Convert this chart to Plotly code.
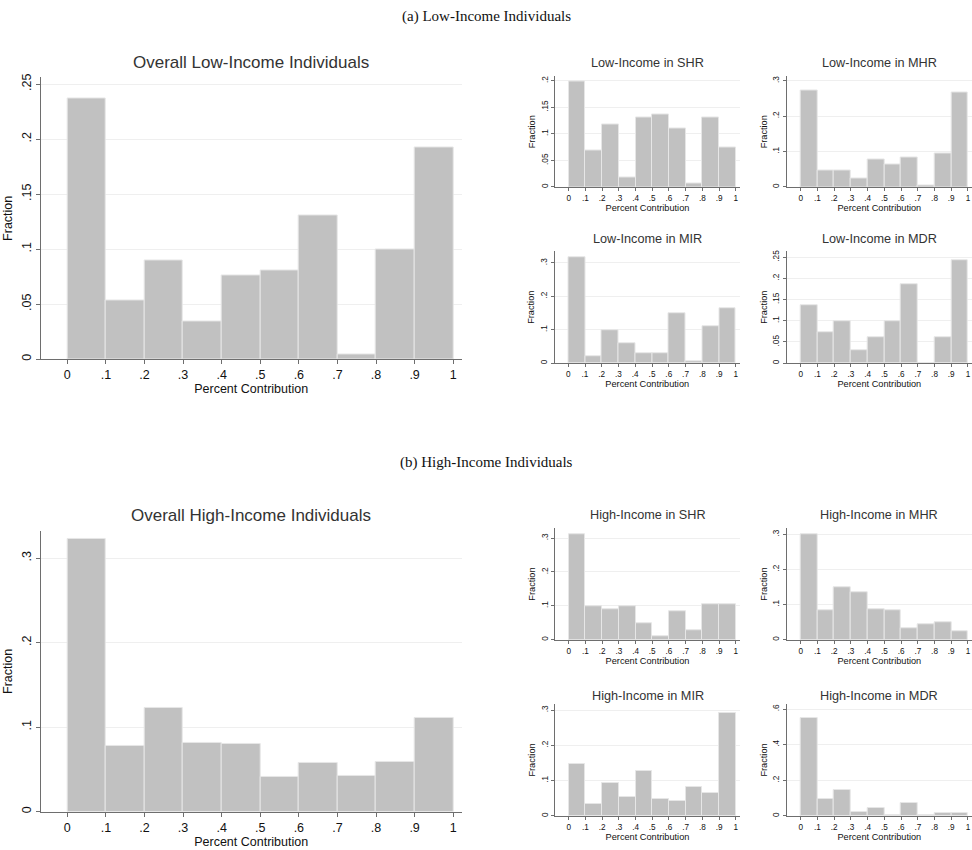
import plotly.graph_objects as go

# ---------------- data ----------------
bin_edges = [0.0, 0.1, 0.2, 0.3, 0.4, 0.5, 0.6, 0.7, 0.8, 0.9, 1.0]
x_tick_vals = [0.0, 0.1, 0.2, 0.3, 0.4, 0.5, 0.6, 0.7, 0.8, 0.9, 1.0]
x_tick_text = ["0", ".1", ".2", ".3", ".4", ".5", ".6", ".7", ".8", ".9", "1"]

low_overall = [0.237, 0.053, 0.090, 0.034, 0.076, 0.081, 0.131, 0.004, 0.100, 0.192]
low_shr = [0.199, 0.068, 0.117, 0.018, 0.130, 0.136, 0.111, 0.006, 0.130, 0.074]
low_mhr = [0.272, 0.048, 0.048, 0.024, 0.078, 0.063, 0.083, 0.003, 0.094, 0.268]
low_mir = [0.316, 0.021, 0.098, 0.060, 0.031, 0.031, 0.148, 0.005, 0.109, 0.165]
low_mdr = [0.137, 0.073, 0.098, 0.030, 0.061, 0.098, 0.187, 0.0, 0.061, 0.243]

high_overall = [0.322, 0.078, 0.123, 0.081, 0.080, 0.041, 0.058, 0.042, 0.059, 0.111]
high_shr = [0.312, 0.098, 0.091, 0.098, 0.050, 0.011, 0.085, 0.029, 0.104, 0.104]
high_mhr = [0.300, 0.084, 0.149, 0.135, 0.088, 0.084, 0.033, 0.043, 0.049, 0.025]
high_mir = [0.148, 0.033, 0.094, 0.054, 0.127, 0.049, 0.043, 0.081, 0.066, 0.291]
high_mdr = [0.550, 0.097, 0.148, 0.022, 0.044, 0.005, 0.071, 0.004, 0.014, 0.016]

titles = {
    "low_overall": "Overall Low-Income Individuals",
    "low_shr": "Low-Income in SHR",
    "low_mhr": "Low-Income in MHR",
    "low_mir": "Low-Income in MIR",
    "low_mdr": "Low-Income in MDR",
    "high_overall": "Overall High-Income Individuals",
    "high_shr": "High-Income in SHR",
    "high_mhr": "High-Income in MHR",
    "high_mir": "High-Income in MIR",
    "high_mdr": "High-Income in MDR",
}
caption_a = "(a) Low-Income Individuals"
caption_b = "(b) High-Income Individuals"
x_title = "Percent Contribution"
y_title = "Fraction"

# ---------------- layout helpers ----------------
W, H = 972, 850
FONT = "Liberation Sans, Arial, sans-serif"
SERIF = "Liberation Serif, Times New Roman, serif"
BAR_FILL = "#c1c1c1"
BAR_LINE = "#e6e6e6"
AXIS_COL = "#6e6e6e"
GRID_COL = "#efefef"

centers = [(bin_edges[i] + bin_edges[i + 1]) / 2 for i in range(len(bin_edges) - 1)]
widths = [bin_edges[i + 1] - bin_edges[i] for i in range(len(bin_edges) - 1)]


def fmt(v):
    if abs(v) < 1e-12:
        return "0"
    s = ("%.2f" % v).rstrip("0").rstrip(".")
    if s.startswith("0."):
        s = s[1:]
    return s


fig = go.Figure()
annotations = []

RX = (-0.0837, 1.024)
# key, values, x_left_px, x_right_px, y_top_px, y_bottom_px, x_range, y_top_val, y_ticks, big, title_y
panels = [
    ("low_overall", low_overall, 40.7, 461.7, 74, 357.7, (-0.069, 1.022), 0.256,
     [0, 0.05, 0.1, 0.15, 0.2, 0.25], True, 59),
    ("low_shr", low_shr, 555, 740, 73, 184.3, (-0.082, 1.025), 0.208,
     [0, 0.05, 0.1, 0.15, 0.2], False, 59),
    ("low_mhr", low_mhr, 786.7, 972, 73, 184.3, RX, 0.312,
     [0, 0.1, 0.2, 0.3], False, 59),
    ("low_mir", low_mir, 554.5, 740, 249, 361.7, (-0.082, 1.025), 0.335,
     [0, 0.1, 0.2, 0.3], False, 237),
    ("low_mdr", low_mdr, 786.7, 972, 249, 361.7, RX, 0.264,
     [0, 0.05, 0.1, 0.15, 0.2, 0.25], False, 237),
    ("high_overall", high_overall, 40.7, 461.7, 530.7, 813.5, (-0.069, 1.022), 0.332,
     [0, 0.1, 0.2, 0.3], True, 515),
    ("high_shr", high_shr, 555, 740, 528, 640.3, (-0.082, 1.025), 0.329,
     [0, 0.1, 0.2, 0.3], False, 515),
    ("high_mhr", high_mhr, 786.7, 972, 528, 640.3, RX, 0.317,
     [0, 0.1, 0.2, 0.3], False, 515),
    ("high_mir", high_mir, 555, 740, 705, 817.7, (-0.082, 1.025), 0.317,
     [0, 0.1, 0.2, 0.3], False, 697),
    ("high_mdr", high_mdr, 786.7, 972, 705, 817.7, RX, 0.628,
     [0, 0.2, 0.4, 0.6], False, 697),
]

layout_axes = {}
for i, (key, vals, xl, xr, yt, yb, xrng, ytop, yticks, big, title_y) in enumerate(panels):
    n = i + 1
    xa = "x" if n == 1 else "x%d" % n
    ya = "y" if n == 1 else "y%d" % n
    fig.add_trace(go.Bar(
        x=centers, y=vals, width=widths, xaxis=xa, yaxis=ya,
        marker=dict(color=BAR_FILL, line=dict(color=BAR_LINE, width=1)),
        showlegend=False, hoverinfo="x+y",
    ))
    tick_fs = 12.5 if big else 8.2
    xtitle_fs = 12.5 if big else 9.2
    ytitle_fs = 12.5 if big else 9.2
    layout_axes["xaxis" if n == 1 else "xaxis%d" % n] = dict(
        domain=[xl / W, min(xr / W, 1.0)], anchor=ya, range=list(xrng),
        tickvals=x_tick_vals, ticktext=x_tick_text, ticks="outside",
        ticklen=4 if big else 3, tickcolor=AXIS_COL, showline=True,
        linecolor=AXIS_COL, linewidth=1, showgrid=False, zeroline=False,
        tickfont=dict(family=FONT, size=tick_fs, color="#111"),
        title=dict(text=x_title, font=dict(family=FONT, size=xtitle_fs, color="#111"),
                   standoff=1),
        fixedrange=True,
    )
    layout_axes["yaxis" if n == 1 else "yaxis%d" % n] = dict(
        domain=[1 - yb / H, 1 - yt / H], anchor=xa, range=[0, ytop],
        tickvals=yticks, ticktext=[fmt(v) for v in yticks], tickangle=-90,
        ticks="outside", ticklen=4 if big else 3, tickcolor=AXIS_COL,
        showline=True, linecolor=AXIS_COL, linewidth=1,
        showgrid=True, gridcolor=GRID_COL, gridwidth=1, zeroline=False,
        tickfont=dict(family=FONT, size=tick_fs, color="#111"),
        title=dict(text=y_title, font=dict(family=FONT, size=ytitle_fs, color="#111"),
                   standoff=4 if big else 3),
        fixedrange=True,
    )
    annotations.append(dict(
        text=titles[key], x=(xl + min(xr, W)) / 2 / W, y=1 - title_y / H,
        xref="paper", yref="paper", xanchor="center", yanchor="middle",
        showarrow=False, font=dict(family=FONT, size=17 if big else 12.7, color="#333"),
    ))

annotations.append(dict(text=caption_a, x=486 / W, y=1 - 13 / H, xref="paper", yref="paper",
                        xanchor="center", yanchor="middle", showarrow=False,
                        font=dict(family=SERIF, size=15, color="#111")))
annotations.append(dict(text=caption_b, x=486 / W, y=1 - 462 / H, xref="paper", yref="paper",
                        xanchor="center", yanchor="middle", showarrow=False,
                        font=dict(family=SERIF, size=15, color="#111")))

fig.update_layout(
    width=W, height=H, autosize=False,
    margin=dict(l=0, r=0, t=0, b=0),
    paper_bgcolor="white", plot_bgcolor="white",
    bargap=0, annotations=annotations, showlegend=False,
    **layout_axes,
)

fig.write_html("out.html", config={"displayModeBar": False},
               post_script="document.body.style.margin='0px';document.body.style.overflow='hidden';")
